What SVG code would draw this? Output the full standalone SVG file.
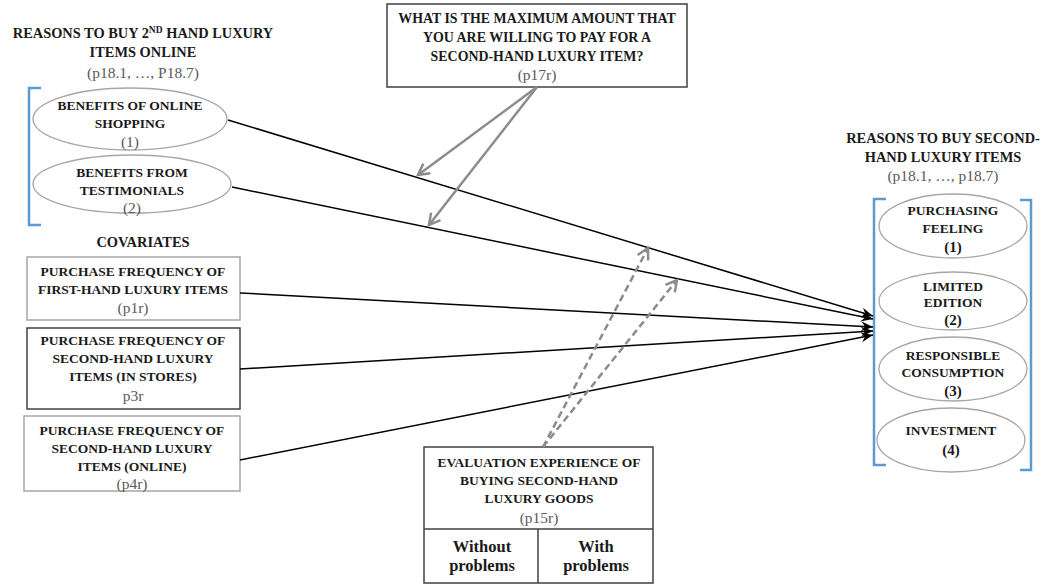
<svg xmlns="http://www.w3.org/2000/svg" width="1053" height="587" viewBox="0 0 1053 587">
<style>
.b{font-family:"Liberation Serif",serif;font-weight:bold;font-size:13.5px;fill:#1a1a1a;text-anchor:middle}
.t{font-size:14.4px}
.q{font-size:13.9px}
.n{font-size:15px}
.w{font-size:16.5px}
.r{font-family:"Liberation Serif",serif;font-size:15.5px;fill:#595959;text-anchor:middle}
.ell{fill:#fff;stroke:#a6a6a6;stroke-width:1.3}
.boxL{fill:#fff;stroke:#a6a6a6;stroke-width:1.5}
.boxD{fill:#fff;stroke:#404040;stroke-width:1.5}
.br{fill:none;stroke:#5b9bd5;stroke-width:2.5}
.con{stroke:#000;stroke-width:1.5;fill:none;marker-end:url(#ab)}
.g{stroke:#8c8c8c;stroke-width:2.5;fill:none;marker-end:url(#ag)}
.gd{stroke:#8c8c8c;stroke-width:2.5;fill:none;stroke-dasharray:7 4;marker-end:url(#ag)}
</style>
<defs>
<marker id="ab" viewBox="0 0 12 10" refX="12" refY="5" markerWidth="12" markerHeight="10" markerUnits="userSpaceOnUse" orient="auto">
<path d="M0,0 L12,5 L0,10 L4,5 Z" fill="#000"/>
</marker>
<marker id="ag" viewBox="0 0 14 14" refX="12" refY="7" markerWidth="14" markerHeight="14" markerUnits="userSpaceOnUse" orient="auto">
<path d="M1,1 L12,7 L1,13" fill="none" stroke="#8c8c8c" stroke-width="2.5"/>
</marker>
</defs>
<rect width="1053" height="587" fill="#fff"/>

<g id="title-left">
<text class="b t" x="143" y="38">REASONS TO BUY 2<tspan font-size="9.5" dy="-5">ND</tspan><tspan dy="5"> HAND LUXURY</tspan></text>
<text class="b t" x="143" y="57">ITEMS ONLINE</text>
<text class="r" x="143" y="78">(p18.1, …, P18.7)</text>
</g>
<path class="br" d="M41,88 H29 V225 H41"/>
<g id="left-ell-1">
<ellipse class="ell" cx="130" cy="119" rx="97" ry="31"/>
<text class="b" x="130" y="110">BENEFITS OF ONLINE</text>
<text class="b" x="130" y="128">SHOPPING</text>
<text class="r" x="130" y="147">(1)</text>
</g>
<g id="left-ell-2">
<ellipse class="ell" cx="132" cy="184" rx="99" ry="29"/>
<text class="b" x="132" y="177">BENEFITS FROM</text>
<text class="b" x="132" y="195">TESTIMONIALS</text>
<text class="r" x="132" y="213">(2)</text>
</g>
<g id="covariates-label">
<text class="b t" x="143" y="247">COVARIATES</text>
</g>
<g id="cov-1">
<rect class="boxL" x="27" y="257" width="213" height="63"/>
<text class="b" x="133" y="276">PURCHASE FREQUENCY OF</text>
<text class="b" x="133" y="294">FIRST-HAND LUXURY ITEMS</text>
<text class="r" x="133" y="313">(p1r)</text>
</g>
<g id="cov-2">
<rect class="boxD" x="27" y="328" width="213" height="81"/>
<text class="b" x="133" y="345">PURCHASE FREQUENCY OF</text>
<text class="b" x="133" y="363">SECOND-HAND LUXURY</text>
<text class="b" x="133" y="381">ITEMS (IN STORES)</text>
<text class="r" x="133" y="401">p3r</text>
</g>
<g id="cov-3">
<rect class="boxL" x="24" y="416" width="216" height="75"/>
<text class="b" x="132" y="435">PURCHASE FREQUENCY OF</text>
<text class="b" x="132" y="453">SECOND-HAND LUXURY</text>
<text class="b" x="132" y="471">ITEMS (ONLINE)</text>
<text class="r" x="132" y="489">(p4r)</text>
</g>
<g id="moderator-top">
<rect class="boxD" x="387" y="4" width="300" height="83"/>
<text class="b q" x="537" y="23">WHAT IS THE MAXIMUM AMOUNT THAT</text>
<text class="b q" x="537" y="42">YOU ARE WILLING TO PAY FOR A</text>
<text class="b q" x="537" y="61">SECOND-HAND LUXURY ITEM?</text>
<text class="r" x="537" y="80">(p17r)</text>
</g>
<g id="moderator-bottom">
<rect class="boxD" x="424" y="447" width="229" height="136"/>
<line x1="424" y1="529" x2="653" y2="529" stroke="#404040" stroke-width="1.5"/>
<line x1="538" y1="529" x2="538" y2="583" stroke="#404040" stroke-width="1.5"/>
<text class="b" x="539" y="467">EVALUATION EXPERIENCE OF</text>
<text class="b" x="539" y="485">BUYING SECOND-HAND</text>
<text class="b" x="539" y="503">LUXURY GOODS</text>
<text class="r" x="539" y="523">(p15r)</text>
<text class="b w" x="482" y="552">Without</text>
<text class="b w" x="482" y="571">problems</text>
<text class="b w" x="596" y="552">With</text>
<text class="b w" x="596" y="571">problems</text>
</g>
<g id="title-right">
<text class="b t" x="943" y="143">REASONS TO BUY SECOND-</text>
<text class="b t" x="943" y="162">HAND LUXURY ITEMS</text>
<text class="r" x="943" y="181">(p18.1, …, p18.7)</text>
</g>
<path class="br" d="M886,199 H874 V465 H886"/>
<path class="br" d="M1020,200 H1031 V470 H1020"/>
<g id="right-ell-1">
<ellipse class="ell" cx="953" cy="226" rx="74" ry="32"/>
<text class="b" x="953" y="215">PURCHASING</text>
<text class="b" x="953" y="233">FEELING</text>
<text class="b n" x="953" y="252">(1)</text>
</g>
<g id="right-ell-2">
<ellipse class="ell" cx="953" cy="301" rx="74" ry="29"/>
<text class="b" x="953" y="291">LIMITED</text>
<text class="b" x="953" y="307">EDITION</text>
<text class="b n" x="953" y="325">(2)</text>
</g>
<g id="right-ell-3">
<ellipse class="ell" cx="953" cy="369" rx="74" ry="32"/>
<text class="b" x="953" y="360">RESPONSIBLE</text>
<text class="b" x="953" y="377">CONSUMPTION</text>
<text class="b n" x="953" y="396">(3)</text>
</g>
<g id="right-ell-4">
<ellipse class="ell" cx="951" cy="440" rx="74" ry="32"/>
<text class="b" x="951" y="435">INVESTMENT</text>
<text class="b n" x="951" y="455">(4)</text>
</g>
<g id="connectors">
<line class="con" x1="228" y1="120" x2="873" y2="316"/>
<line class="con" x1="232" y1="187" x2="873" y2="319"/>
<line class="con" x1="240" y1="293" x2="873" y2="327"/>
<line class="con" x1="240" y1="369" x2="873" y2="331"/>
<line class="con" x1="240" y1="460" x2="873" y2="335"/>
<line class="g" x1="537" y1="87" x2="418" y2="175"/>
<line class="g" x1="537" y1="87" x2="429" y2="225"/>
<line class="gd" x1="543" y1="447" x2="648" y2="248"/>
<line class="gd" x1="543" y1="447" x2="677" y2="280"/>
</g>
</svg>
